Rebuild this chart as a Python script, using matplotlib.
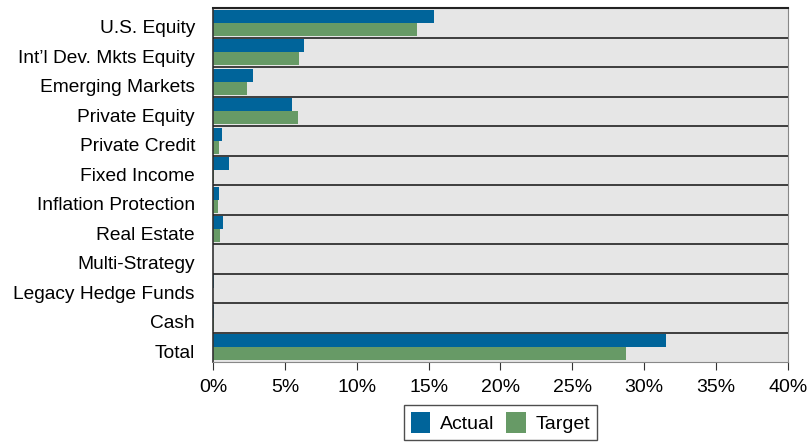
import numpy as np
import matplotlib.pyplot as plt
import matplotlib.transforms as mtransforms
from matplotlib.ticker import FuncFormatter

plt.rcParams['font.family'] = ['Liberation Sans', 'DejaVu Sans']

categories = ["U.S. Equity", "Int\u2019l Dev. Mkts Equity", "Emerging Markets", "Private Equity",
              "Private Credit", "Fixed Income", "Inflation Protection", "Real Estate",
              "Multi-Strategy", "Legacy Hedge Funds", "Cash", "Total"]
actual = [15.4, 6.3, 2.8, 5.5, 0.6, 1.1, 0.4, 0.7, 0.0, 0.1, 0.1, 31.5]
target = [14.2, 6.0, 2.4, 5.9, 0.4, 0.1, 0.35, 0.5, 0.0, 0.0, 0.1, 28.75]

blue = "#00649a"
green = "#679a66"

fig = plt.figure(figsize=(8.08, 4.45), dpi=100)
ax = fig.add_axes([0.2636, 0.1865, 0.7116, 0.7955])
ax.set_facecolor("#e6e6e6")

y = np.arange(len(categories))
h = 0.44
ax.barh(y - h / 2, actual, height=h, color=blue, label="Actual", zorder=2)
ax.barh(y + h / 2, target, height=h, color=green, label="Target", zorder=2)

for b in y[:-1] + 0.5:
    ax.axhline(b, color="#222222", lw=1.2, zorder=3)

ax.set_ylim(len(categories) - 0.5, -0.5)
ax.set_xlim(0, 40)
ax.set_xticks(np.arange(0, 41, 5))
ax.xaxis.set_major_formatter(FuncFormatter(lambda v, p: f"{v:.0f}%"))
ax.set_yticks(y)
ax.set_yticklabels(categories, fontsize=13.8)
ax.tick_params(axis="y", length=0, pad=13)
ax.tick_params(axis="x", length=6, direction="out", labelsize=14, color="#333333", pad=6)

# labels sit a little below the row centres in the original
shift = mtransforms.ScaledTranslation(0, -4 / 100, fig.dpi_scale_trans)
for lbl in ax.get_yticklabels():
    lbl.set_transform(lbl.get_transform() + shift)

ax.spines["top"].set_color("#222222")
ax.spines["top"].set_linewidth(1.5)
ax.spines["right"].set_color("#888888")
ax.spines["left"].set_color("#333333")
ax.spines["left"].set_linewidth(1.2)
ax.spines["bottom"].set_color("#888888")

ax.legend(loc="upper center", bbox_to_anchor=(0.5, -0.095), ncol=2, fontsize=14,
          frameon=True, fancybox=False, edgecolor="#222222", handlelength=1.0,
          handleheight=1.3, columnspacing=0.6, handletextpad=0.5, borderpad=0.35)

fig.savefig("out.png", dpi=100)
